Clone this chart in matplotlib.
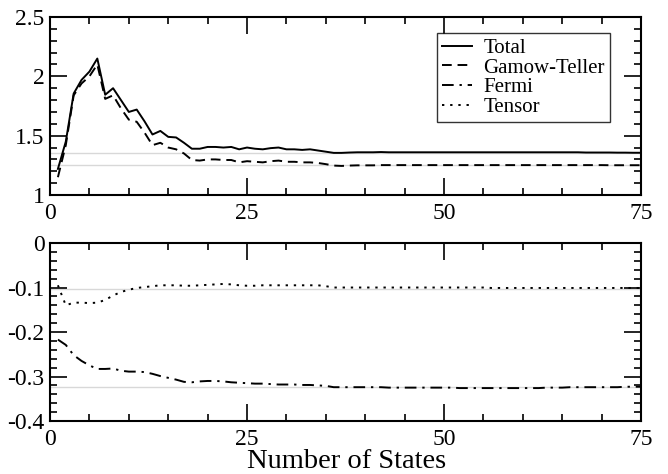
import matplotlib
matplotlib.use('Agg')
import matplotlib.pyplot as plt
import numpy as np
from matplotlib.ticker import MultipleLocator

plt.rcParams['font.family'] = ['Liberation Serif', 'DejaVu Serif']
plt.rcParams['axes.unicode_minus'] = False

# number of states included in the sum
states = np.arange(1, 76)

total = [1.22, 1.45, 1.855, 1.97, 2.04, 2.15, 1.845, 1.90, 1.80, 1.70,
         1.72, 1.62, 1.51, 1.54, 1.49, 1.485, 1.44, 1.39, 1.39, 1.405,
         1.405, 1.40, 1.405, 1.385, 1.40, 1.39, 1.385, 1.395, 1.40, 1.385,
         1.385, 1.38, 1.385, 1.375, 1.365, 1.355, 1.355, 1.358, 1.36, 1.36,
         1.36, 1.362, 1.36, 1.36, 1.36, 1.36, 1.36, 1.36, 1.36, 1.36,
         1.36, 1.36, 1.36, 1.36, 1.36, 1.36, 1.36, 1.36, 1.36, 1.36,
         1.36, 1.36, 1.36, 1.36, 1.36, 1.36, 1.36, 1.358, 1.358, 1.358,
         1.358, 1.357, 1.357, 1.356, 1.356]

gamow_teller = [1.15, 1.42, 1.84, 1.94, 2.00, 2.10, 1.81, 1.84, 1.73, 1.635,
                1.617, 1.525, 1.42, 1.44, 1.40, 1.385, 1.35, 1.295, 1.29, 1.30,
                1.30, 1.295, 1.295, 1.275, 1.285, 1.28, 1.275, 1.285, 1.29, 1.28,
                1.28, 1.275, 1.275, 1.27, 1.26, 1.248, 1.245, 1.248, 1.25, 1.25,
                1.25, 1.252, 1.252, 1.252, 1.252, 1.252, 1.252, 1.252, 1.252, 1.252,
                1.252, 1.252, 1.252, 1.252, 1.252, 1.252, 1.252, 1.252, 1.252, 1.252,
                1.252, 1.252, 1.252, 1.252, 1.252, 1.252, 1.252, 1.252, 1.252, 1.252,
                1.251, 1.251, 1.251, 1.251, 1.251]

fermi = [-0.217, -0.229, -0.252, -0.265, -0.275, -0.283, -0.283, -0.282, -0.287, -0.289,
         -0.289, -0.290, -0.294, -0.299, -0.303, -0.307, -0.312, -0.313, -0.311, -0.310,
         -0.310, -0.311, -0.313, -0.314, -0.315, -0.316, -0.316, -0.317, -0.318, -0.318,
         -0.318, -0.319, -0.319, -0.320, -0.321, -0.324, -0.324, -0.324, -0.324, -0.324,
         -0.324, -0.324, -0.325, -0.325, -0.325, -0.325, -0.325, -0.325, -0.325, -0.325,
         -0.325, -0.326, -0.326, -0.326, -0.326, -0.326, -0.326, -0.326, -0.326, -0.326,
         -0.326, -0.326, -0.325, -0.325, -0.325, -0.324, -0.324, -0.324, -0.324, -0.324,
         -0.324, -0.324, -0.323, -0.323, -0.323]

tensor = [-0.095, -0.140, -0.134, -0.134, -0.135, -0.134, -0.128, -0.118, -0.110, -0.105,
          -0.101, -0.099, -0.097, -0.095, -0.095, -0.095, -0.096, -0.096, -0.095, -0.094,
          -0.093, -0.092, -0.093, -0.095, -0.096, -0.096, -0.095, -0.095, -0.095, -0.095,
          -0.095, -0.095, -0.095, -0.095, -0.097, -0.100, -0.100, -0.100, -0.100, -0.100,
          -0.100, -0.100, -0.100, -0.100, -0.100, -0.100, -0.100, -0.100, -0.100, -0.100,
          -0.100, -0.100, -0.100, -0.100, -0.100, -0.101, -0.101, -0.101, -0.101, -0.101,
          -0.101, -0.101, -0.101, -0.101, -0.101, -0.101, -0.101, -0.101, -0.101, -0.101,
          -0.101, -0.101, -0.101, -0.101, -0.101]

# converged reference values (grey lines)
top_refs = [1.355, 1.25]
bottom_refs = [-0.104, -0.324]

x_ticks = [0, 25, 50, 75]
top_yticks = [1, 1.5, 2, 2.5]
top_ylabels = ['1', '1.5', '2', '2.5']
bottom_yticks = [0, -0.1, -0.2, -0.3, -0.4]
bottom_ylabels = ['0', '-0.1', '-0.2', '-0.3', '-0.4']


def style_axis(ax, yminor):
    ax.set_xlim(0, 75)
    ax.set_xticks(x_ticks)
    ax.set_xticklabels([str(t) for t in x_ticks])
    ax.xaxis.set_minor_locator(MultipleLocator(5))
    ax.yaxis.set_minor_locator(MultipleLocator(yminor))
    ax.tick_params(which='both', direction='in', top=True, right=True,
                   width=1.2, labelsize=17)
    ax.tick_params(which='major', length=12)
    ax.tick_params(which='minor', length=5)
    ax.tick_params(axis='x', which='major', pad=6)
    ax.tick_params(axis='y', which='major', pad=4)
    for sp in ax.spines.values():
        sp.set_linewidth(1.5)


fig = plt.figure(figsize=(6.68, 4.74), dpi=100)
ax1 = fig.add_axes([0.0749, 0.5886, 0.8847, 0.3755])
ax2 = fig.add_axes([0.0749, 0.1118, 0.8847, 0.3755])

for r in top_refs:
    ax1.axhline(r, color='#d8d8d8', linewidth=1, zorder=1)
l1, = ax1.plot(states, total, color='black', linewidth=1.4, linestyle='-')
l2, = ax1.plot(states, gamow_teller, color='black', linewidth=1.4, linestyle=(0, (5, 3)))
ax1.set_ylim(1, 2.5)
ax1.set_yticks(top_yticks)
ax1.set_yticklabels(top_ylabels)
style_axis(ax1, 0.1)

for r in bottom_refs:
    ax2.axhline(r, color='#d8d8d8', linewidth=1, zorder=1)
l3, = ax2.plot(states, fermi, color='black', linewidth=1.4, linestyle=(0, (6, 3, 1.2, 3)))
l4, = ax2.plot(states, tensor, color='black', linewidth=1.4, linestyle=(0, (1.2, 3)))
ax2.set_ylim(-0.4, 0)
ax2.set_yticks(bottom_yticks)
ax2.set_yticklabels(bottom_ylabels)
style_axis(ax2, 0.02)
fig.text(0.519, 0.013, 'Number of States', fontsize=20.5,
         ha='center', va='baseline')

leg = ax1.legend([l1, l2, l3, l4], ['Total', 'Gamow-Teller', 'Fermi', 'Tensor'],
                 loc='upper left', bbox_to_anchor=(0.654, 0.908), borderaxespad=0,
                 fontsize=15, frameon=True, fancybox=False, shadow=False,
                 handlelength=1.45, handletextpad=0.55, labelspacing=0.0,
                 borderpad=0.25)
leg.get_frame().set_edgecolor('black')
leg.get_frame().set_linewidth(1.0)

fig.savefig('out.png', dpi=100)
